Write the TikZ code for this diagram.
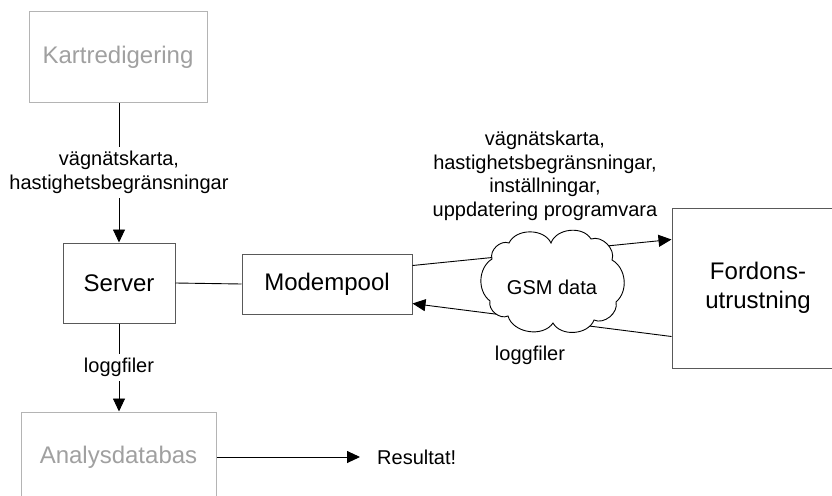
\documentclass[tikz,border=0pt]{standalone}
\usepackage{fontspec}
\setmainfont{Liberation Sans}
\usetikzlibrary{arrows.meta}
\definecolor{boxdark}{HTML}{595959}
\definecolor{boxlight}{HTML}{B4B4B4}
\definecolor{textlight}{HTML}{A0A0A0}
\tikzset{
  mainbox/.style={draw=boxdark, line width=1pt, fill=white, font=\fontsize{24}{29}\selectfont, align=center, inner sep=0pt},
  lightbox/.style={draw=boxlight, line width=1pt, fill=white, text=textlight, font=\fontsize{24}{29}\selectfont, align=center, inner sep=0pt},
  lbl/.style={font=\fontsize{20}{23.5}\selectfont, align=center, inner sep=3pt},
  conn/.style={line width=0.9pt, draw=black},
  arr/.style={conn, -{Triangle[length=13pt,width=12pt]}},
  cloudline/.style={draw=black, line width=0.9pt, fill=white},
  puff/.style={bend left=65},
  sidepuff/.style={bend left=55},
}
\begin{document}
\begin{tikzpicture}[x=1pt,y=-1pt]
\clip (0,0) rectangle (832,495);
\fill[white] (0,0) rectangle (832,495);
% boxes
\node[lightbox, minimum width=178pt, minimum height=90pt] (kart) at (118,57) {Kartredigering};
\node[mainbox, minimum width=112pt, minimum height=80pt] (server) at (119,283) {Server};
\node[mainbox, minimum width=170pt, minimum height=60pt] (modem) at (327,284) {Modempool};
\node[mainbox, minimum width=172pt, minimum height=160pt] (fordon) at (758,288) {Fordons-\\utrustning};
\node[lightbox, minimum width=195pt, minimum height=90pt] (analys) at (118.5,457) {Analysdatabas};
\node[lbl, anchor=west] (result) at (374,457) {Resultat!};
% connectors
\draw[arr] (kart.south -| server.north) -- node[lbl, fill=white, inner sep=4pt] {vägnätskarta,\\hastighetsbegränsningar} (server.north);
\draw[arr] (server.south) -- node[lbl, fill=white, inner sep=4pt] {loggfiler} (server.south |- analys.north);
\draw[conn] (server.east) -- (modem.west);
\draw[arr] ([yshift=-12pt]modem.north east) -- ([yshift=-32pt]fordon.north west);
\draw[arr] ([yshift=32pt]fordon.south west) -- ([yshift=11pt]modem.south east);
\draw[arr] (analys.east) -- ([xshift=-14pt]result.west);
% cloud
\draw[cloudline] (492,259) to[puff] (509,243) to[puff] (551,243) to[puff] (591,239)
  to[puff] (612,260) to[sidepuff] (616,302) to[puff] (594,320) to[puff] (553,323)
  to[puff] (508,316) to[puff] (490,301) to[sidepuff] cycle;
\node[font=\fontsize{20}{24}\selectfont, inner sep=0pt] (gsm) at (552,287) {GSM data};
% labels
\node[lbl] (toplbl) at (545,176) {vägnätskarta,\\hastighetsbegränsningar,\\inställningar,\\uppdatering programvara};
\node[lbl] (loglbl) at (530,355) {loggfiler};
\end{tikzpicture}
\end{document}
